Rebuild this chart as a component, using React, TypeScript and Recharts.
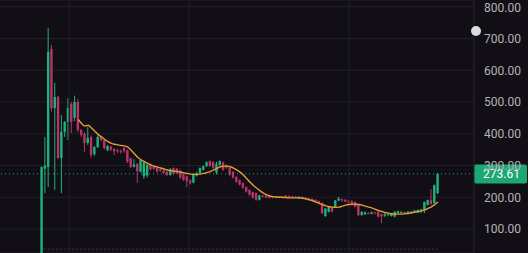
import React from "react";
import {
    Bar,
    ComposedChart,
    CartesianGrid,
    Line,
    ReferenceLine,
    XAxis,
    YAxis,
} from "recharts";

// candle values, one entry per session
const opens = [
    20, 290, 295, 667, 481, 516, 324, 406, 437, 494, 450, 500, 412, 400, 371, 390, 336, 358, 390, 380,
    348, 360, 352, 348, 345, 355, 348, 322, 296, 305, 280, 266, 268, 302, 298, 292, 288, 284, 280, 270,
    292, 290, 284, 272, 266, 254, 246, 268, 276, 286, 298, 314, 311, 278, 302, 310, 300, 292, 280, 264,
    254, 245, 232, 223, 216, 213, 192, 205, 205, 204, 202, 199, 200, 201, 205, 204, 203, 202, 196, 201,
    199, 197, 195, 192, 188, 182, 141, 154, 166, 168, 190, 194, 192, 190, 188, 185, 176, 144, 146, 150,
    148, 152, 154, 146, 142, 144, 141, 139, 150, 152, 153, 150, 152, 153, 152, 158, 160, 176, 191, 182,
    213,
];
const highs = [
    297, 390, 733, 680, 560, 520, 459, 440, 512, 500, 520, 510, 415, 405, 421, 395, 362, 395, 392, 383,
    365, 362, 355, 352, 350, 358, 350, 325, 320, 308, 318, 312, 306, 304, 300, 294, 290, 286, 282, 292,
    294, 292, 288, 275, 268, 256, 276, 280, 294, 300, 313, 316, 313, 312, 316, 312, 304, 294, 282, 266,
    256, 247, 234, 225, 218, 215, 208, 207, 207, 206, 204, 203, 203, 203, 207, 206, 205, 204, 203, 203,
    200, 198, 196, 193, 190, 184, 166, 170, 168, 192, 201, 196, 194, 192, 190, 187, 178, 156, 155, 153,
    155, 154, 156, 148, 150, 149, 150, 156, 158, 157, 155, 156, 157, 160, 161, 163, 186, 193, 226, 240,
    277,
];
const lows = [
    20, 213, 232, 470, 223, 320, 213, 390, 380, 402, 440, 405, 390, 343, 365, 325, 330, 355, 376, 350,
    345, 345, 333, 340, 338, 340, 308, 292, 294, 245, 278, 258, 262, 284, 286, 278, 280, 274, 268, 268,
    272, 273, 258, 252, 232, 240, 244, 265, 274, 284, 296, 296, 290, 272, 300, 283, 290, 268, 259, 246,
    237, 227, 215, 205, 196, 189, 190, 200, 197, 196, 196, 197, 198, 196, 198, 197, 198, 197, 194, 194,
    192, 190, 187, 183, 178, 146, 138, 152, 152, 166, 188, 186, 184, 180, 178, 168, 140, 142, 144, 146,
    146, 146, 136, 118, 138, 140, 139, 137, 148, 149, 148, 148, 149, 151, 150, 150, 150, 174, 175, 180,
    210,
];
const closes = [
    295, 300, 658, 481, 516, 324, 406, 437, 481, 437, 500, 412, 396, 371, 387, 333, 358, 390, 380, 355,
    362, 350, 345, 344, 342, 345, 312, 296, 303, 282, 317, 310, 302, 288, 290, 281, 283, 276, 270, 288,
    274, 276, 262, 255, 251, 243, 273, 276, 292, 298, 310, 299, 293, 304, 314, 286, 293, 271, 262, 249,
    240, 230, 218, 208, 199, 192, 206, 202, 199, 198, 199, 201, 202, 198, 200, 199, 200, 199, 202, 196,
    194, 192, 189, 186, 181, 150, 164, 169, 155, 190, 196, 190, 187, 183, 181, 170, 144, 154, 153, 148,
    153, 149, 139, 140, 146, 147, 148, 154, 156, 153, 150, 155, 154, 158, 160, 162, 185, 191, 179, 238,
    273.61,
];
// orange moving average as drawn (starts at the 12th session)
const maStart = 11;
const maValues = [
    445, 432, 424, 427, 418, 408, 398, 390, 382, 375, 370, 367, 365, 363, 362, 358, 348, 337, 326, 318,
    312, 307, 302, 298, 295, 292, 289, 286, 284, 282, 281, 279, 277, 275, 273, 272, 272, 273, 275, 278,
    281, 286, 291, 296, 298, 298, 296, 292, 286, 279, 270, 259, 248, 238, 229, 221, 214, 208, 204, 202,
    201, 200, 200, 199, 198, 198, 198, 198, 197, 195, 192, 189, 185, 181, 177, 173, 170, 169, 168, 169,
    172, 175, 177, 178, 178, 177, 175, 172, 169, 166, 162, 158, 155, 152, 150, 148, 147, 147, 147, 148,
    149, 151, 153, 155, 157, 160, 165, 170, 177, 185,
];
const priceTicks = [100, 200, 300, 400, 500, 600, 700, 800];
const timeGrid = [8.2, 44.5, 93];
const lastPrice = 273.61;

const UP = "#1fb27b";
const DOWN = "#b8336a";
const BG = "#110e16";
const GRID = "#221f28";

const data = closes.map((c, i) => ({
    t: i,
    open: opens[i],
    high: highs[i],
    low: lows[i],
    close: c,
    ma: i >= maStart ? maValues[i - maStart] : null,
}));

const Candle = (props: any) => {
    const { x, y, width, height, payload } = props;
    const { open, close, high, low } = payload;
    const color = close >= open ? UP : DOWN;
    const h = Math.abs(height);
    const top0 = height < 0 ? y + height : y;
    const px = h / (high - low);
    const yOf = (v: number) => top0 + (high - v) * px;
    const bodyTop = yOf(Math.max(open, close));
    const bodyBot = yOf(Math.min(open, close));
    const cx = x + width / 2;
    return (
        <g>
            <line x1={cx} x2={cx} y1={top0} y2={top0 + h} stroke={color} strokeWidth={1} />
            <rect x={x} y={bodyTop} width={width} height={Math.max(1, bodyBot - bodyTop)} fill={color} />
        </g>
    );
};

const PriceTag = (props: any) => {
    const { viewBox } = props;
    const right = viewBox.x + viewBox.width;
    return (
        <g>
            <rect x={right} y={viewBox.y - 9.5} width={53} height={19} rx={2} fill="#1ca874" />
            <text
                x={right + 9}
                y={viewBox.y + 4.5}
                fill="#ffffff"
                fontSize={12}
                fontFamily="Roboto, sans-serif"
            >
                {lastPrice.toFixed(2)}
            </text>
        </g>
    );
};

export default function App() {
    return (
        <div style={{ position: "fixed", left: 0, top: 0, width: 528, height: 253, background: BG }}>
            <ComposedChart
                width={528}
                height={253}
                data={data}
                margin={{ top: 0, right: 0, bottom: 0, left: 0 }}
            >
                <CartesianGrid stroke={GRID} vertical={false} />
                {timeGrid.map((t) => (
                    <ReferenceLine key={t} x={t} stroke={GRID} ifOverflow="visible" />
                ))}
                <XAxis dataKey="t" type="number" domain={[-12.73, 130.9]} hide allowDataOverflow />
                <YAxis
                    orientation="right"
                    width={54}
                    domain={[24.4, 821.3]}
                    allowDataOverflow
                    ticks={priceTicks}
                    tickFormatter={(v: number) => v.toFixed(2)}
                    tick={{ fill: "#b4b3ba", fontSize: 12, fontFamily: "Roboto, sans-serif" }}
                    tickLine={false}
                    tickMargin={4}
                    axisLine={{ stroke: "#2a2730" }}
                />
                <ReferenceLine
                    segment={[{ x: 0.5, y: 37 }, { x: 120, y: 37 }]}
                    stroke="#3a3742"
                    strokeDasharray="2 2"
                />
                <ReferenceLine
                    y={lastPrice}
                    stroke="#22ab94"
                    strokeDasharray="1 3"
                    label={<PriceTag />}
                />
                <Bar
                    dataKey={(d: any) => [d.low, d.high]}
                    barSize={2.4}
                    shape={<Candle />}
                    isAnimationActive={false}
                />
                <Line
                    dataKey="ma"
                    type="monotone"
                    stroke="#e39b32"
                    strokeWidth={1.4}
                    dot={false}
                    connectNulls={false}
                    isAnimationActive={false}
                />
            </ComposedChart>
            <div
                style={{
                    position: "absolute",
                    left: 471,
                    top: 26,
                    width: 10,
                    height: 10,
                    borderRadius: 5,
                    background: "#dcdce0",
                }}
            />
        </div>
    );
}
